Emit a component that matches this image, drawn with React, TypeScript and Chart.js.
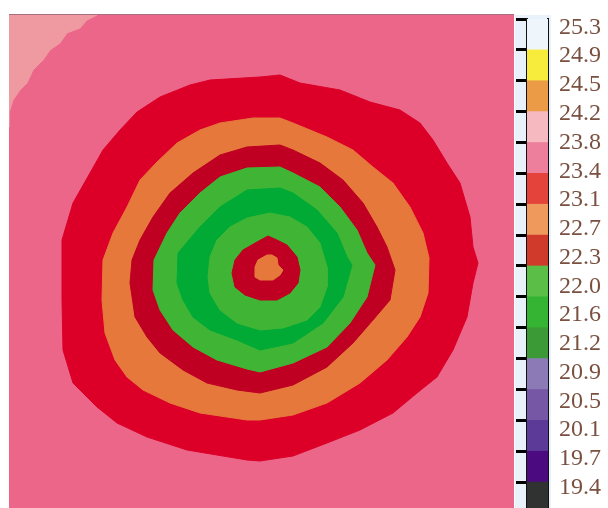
import React, { useEffect, useRef } from "react";
import { Chart, registerables } from "chart.js";

Chart.register(...registerables);

type Pt = [number, number];

const BACKGROUND: Pt[] = [[9, 15], [514, 15], [514, 508], [9, 508]];

const CORNER_LIGHT: Pt[] = [
  [9, 15], [97, 15], [87, 20], [80, 28], [67, 33], [60, 43], [50, 50], [43, 60],
  [33, 70], [27, 83], [20, 90], [13, 100], [9, 113], [9, 127],
];

const OUTER_RED: Pt[] = [
  [280, 75], [300, 83], [340, 90], [370, 102], [400, 110], [420, 123], [433, 140],
  [447, 163], [460, 183], [470, 217], [473, 247], [478, 263], [473, 283], [467, 317],
  [453, 350], [437, 377], [417, 393], [393, 413], [360, 430], [327, 443], [293, 456],
  [260, 461], [247, 460], [187, 450], [147, 437], [117, 423], [97, 407], [73, 383],
  [63, 350], [62, 300], [62, 240], [73, 203], [90, 173], [103, 150], [120, 130],
  [137, 112], [160, 97], [190, 85], [210, 80], [260, 77],
];

const ORANGE_RING: Pt[] = [
  [280, 118], [293, 123], [327, 137], [353, 150], [373, 167], [393, 183], [410, 207],
  [423, 233], [429, 258], [428, 293], [420, 317], [407, 337], [387, 360], [360, 383],
  [327, 403], [293, 415], [260, 420], [247, 420], [200, 413], [170, 403], [143, 390],
  [127, 377], [115, 360], [105, 333], [102, 300], [103, 260], [113, 233], [127, 207],
  [140, 180], [157, 162], [177, 143], [200, 130], [220, 123], [253, 118],
];

const DARK_RED_RING: Pt[] = [
  [280, 145], [293, 150], [320, 163], [343, 180], [363, 203], [377, 227], [387, 247],
  [395, 270], [390, 300], [373, 320], [353, 343], [327, 367], [293, 385], [260, 393],
  [237, 390], [207, 383], [183, 370], [160, 353], [147, 337], [135, 317], [130, 283],
  [132, 260], [140, 240], [153, 217], [170, 193], [193, 173], [220, 155], [247, 147],
];

const LIGHT_GREEN_RING: Pt[] = [
  [280, 167], [293, 173], [320, 187], [340, 207], [357, 230], [367, 253], [375, 265],
  [367, 297], [350, 323], [327, 347], [293, 363], [260, 372], [247, 369], [217, 360],
  [193, 347], [173, 330], [160, 310], [153, 290], [154, 260], [167, 233], [180, 213],
  [200, 193], [220, 177], [247, 168],
];

const GREEN_RING: Pt[] = [
  [280, 188], [293, 193], [317, 210], [337, 233], [347, 257], [352, 265], [343, 297],
  [323, 323], [293, 343], [260, 350], [237, 340], [210, 330], [193, 317], [183, 300],
  [177, 283], [178, 253], [200, 227], [220, 207], [247, 190],
];

const INNER_LIGHT_GREEN: Pt[] = [
  [270, 213], [290, 217], [307, 227], [320, 243], [327, 267], [327, 287], [320, 307],
  [307, 320], [283, 328], [260, 330], [237, 323], [220, 310], [210, 293], [208, 277],
  [210, 257], [217, 240], [230, 227], [247, 218],
];

const INNER_DARK_RED: Pt[] = [
  [268, 236], [277, 240], [287, 245], [297, 257], [300, 270], [298, 283], [290, 293],
  [277, 300], [260, 300], [245, 295], [235, 287], [232, 273], [235, 260], [243, 250],
  [257, 242],
];

const CENTER_ORANGE: Pt[] = [
  [267, 255], [272, 255], [277, 258], [278, 265], [283, 270], [280, 275], [273, 280],
  [260, 280], [255, 277], [255, 267], [258, 260],
];

const MAP_POLYGONS: Pt[][] = [
  BACKGROUND, CORNER_LIGHT, OUTER_RED, ORANGE_RING, DARK_RED_RING,
  LIGHT_GREEN_RING, GREEN_RING, INNER_LIGHT_GREEN, INNER_DARK_RED, CENTER_ORANGE,
];
const MAP_COLORS: string[] = [
  "#ec668a", "#ef9aa0", "#dc0028", "#e6783c", "#bf0022",
  "#40b535", "#00aa35", "#40b535", "#bf0022", "#e6783c",
];

// ---- colour bar (bottom to top) ----
const BAR_LABELS: string[] = [
  "19.4", "19.7", "20.1", "20.5", "20.9", "21.2", "21.6", "22.0", "22.3",
  "22.7", "23.1", "23.4", "23.8", "24.2", "24.5", "24.9", "25.3",
];
const BAR_COLORS: string[] = [
  "#2f3230", "#4b0a80", "#5c3a98", "#7657a5", "#8b7ab5", "#3b9a35", "#35b433", "#5bbf47",
  "#d03a2b", "#ef9a5c", "#e3433a", "#ee7f9c", "#f5b9bf", "#eb9a45", "#f7ec3c", "#eef5fb",
];
const BAR_STEPS: number[] = [1, 1, 1, 1, 1, 1, 1, 1, 1, 1, 1, 1, 1, 1, 1, 1];
const BAR_BOUNDARIES: number[] = [1, 2, 3, 4, 5, 6, 7, 8, 9, 10, 11, 12, 13, 14, 15, 16];

const SERIF = '"Liberation Serif", "Times New Roman", "DejaVu Serif", serif';

export default function App() {
  const mapRef = useRef<HTMLCanvasElement | null>(null);
  const barRef = useRef<HTMLCanvasElement | null>(null);

  useEffect(() => {
    const n = MAP_POLYGONS.length;
    const mapChart = new Chart(mapRef.current as HTMLCanvasElement, {
      type: "scatter",
      data: {
        datasets: MAP_POLYGONS.map((poly, i) => ({
          label: "layer" + i,
          data: [...poly, poly[0]].map(([x, y]) => ({ x, y })),
          showLine: true,
          fill: "shape",
          backgroundColor: MAP_COLORS[i],
          borderColor: MAP_COLORS[i],
          borderWidth: 1,
          pointRadius: 0,
          tension: 0,
          order: n - i,
        })),
      },
      options: {
        animation: false,
        responsive: false,
        maintainAspectRatio: false,
        events: [],
        layout: { padding: 0 },
        plugins: { legend: { display: false }, tooltip: { enabled: false } },
        scales: {
          x: { type: "linear", min: 9, max: 514, display: false },
          y: { type: "linear", min: 15, max: 508, reverse: true, display: false },
        },
      },
    } as any);

    const bgPlugin = {
      id: "barBg",
      beforeDraw(chart: any) {
        const { ctx, chartArea } = chart;
        ctx.save();
        ctx.fillStyle = "#e9f2fa";
        ctx.fillRect(chartArea.left - 12, chartArea.top - 4, chartArea.right - chartArea.left + 15, chartArea.bottom - chartArea.top + 4);
        ctx.restore();
      },
    };

    const barChart = new Chart(barRef.current as HTMLCanvasElement, {
      type: "bar",
      data: {
        labels: [""],
        datasets: BAR_COLORS.map((c, i) => ({
          label: BAR_LABELS[i],
          data: [BAR_STEPS[i]],
          backgroundColor: c,
          borderWidth: 0,
          barPercentage: 1,
          categoryPercentage: 1,
          xAxisID: "x",
          yAxisID: "y",
        })),
      },
      options: {
        animation: false,
        responsive: false,
        maintainAspectRatio: false,
        events: [],
        layout: { padding: { left: 15, right: 0, top: 19, bottom: 0 } },
        plugins: { legend: { display: false }, tooltip: { enabled: false } },
        scales: {
          x: { stacked: true, display: false },
          y: {
            type: "linear",
            stacked: true,
            position: "left",
            min: 0.16,
            max: 16,
            z: 1,
            afterBuildTicks: (s: any) => {
              s.ticks = BAR_BOUNDARIES.map((v) => ({ value: v }));
            },
            afterFit: (s: any) => {
              s.width = 12;
              s.paddingTop = 0;
              s.paddingBottom = 0;
            },
            ticks: { display: false },
            grid: {
              drawOnChartArea: false, drawTicks: true, tickLength: 11,
              color: "#000000", tickColor: "#000000", lineWidth: 3, tickWidth: 3,
            },
            border: { display: true, color: "#111111", width: 2 },
          },
          yLabels: {
            type: "category",
            position: "right",
            labels: BAR_LABELS,
            reverse: true,
            offset: true,
            z: 1,
            afterFit: (s: any) => {
              s.width = 60;
              s.paddingTop = 0;
              s.paddingBottom = 0;
            },
            ticks: {
              color: "#7a5040",
              font: { family: SERIF, size: 24 },
              padding: 11,
              labelOffset: -6,
              autoSkip: false,
            },
            grid: { display: false, drawTicks: false },
            border: { display: true, color: "#111111", width: 2 },
          },
        },
      },
      plugins: [bgPlugin],
    } as any);

    return () => {
      mapChart.destroy();
      barChart.destroy();
    };
  }, []);

  return (
    <div style={{ position: "fixed", left: 0, top: 0, width: 608, height: 508, background: "#ffffff", overflow: "hidden" }}>
      <div style={{ position: "absolute", left: 9, top: 14, width: 505, height: 1, background: "#a77080" }} />
      <canvas ref={mapRef} width={505} height={493} style={{ position: "absolute", left: 9, top: 15, width: 505, height: 493 }} />
      <canvas ref={barRef} width={108} height={508} style={{ position: "absolute", left: 500, top: 0, width: 108, height: 508 }} />
    </div>
  );
}
